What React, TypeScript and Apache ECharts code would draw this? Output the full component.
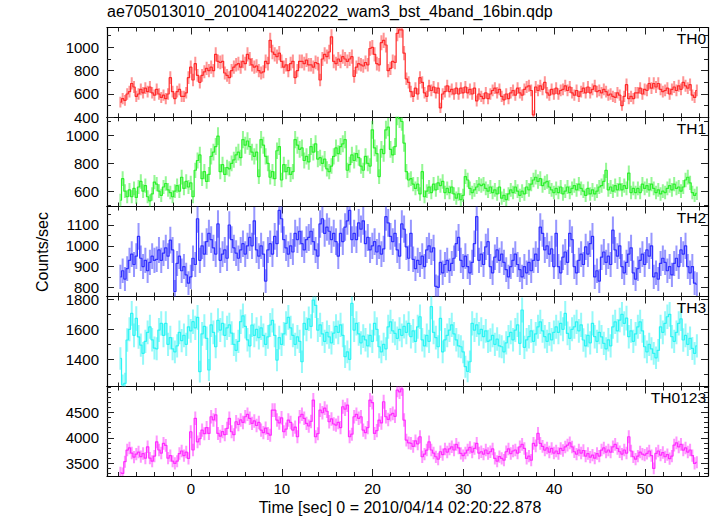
import React, { useEffect, useRef } from 'react';
import * as echarts from 'echarts';

// time bins: 0.25 s each, first bin starts at T_START
const T_START = -7.9;
const BIN = 0.25;

const TH0 = [
  530, 560, 545, 600, 620, 690, 660, 580, 600, 640, 610, 650, 620, 660, 610, 590,
  640, 600, 570, 590, 560, 600, 740, 620, 560, 620, 640, 580, 580, 610, 740, 830,
  720, 860, 760, 700, 760, 790, 820, 800, 830, 800, 940, 880, 870, 880, 780, 760,
  740, 800, 830, 850, 860, 830, 880, 860, 940, 900, 850, 830, 840, 800, 780, 790,
  880, 860, 1060, 960, 940, 920, 950, 880, 830, 850, 800, 860, 880, 740, 800, 880,
  880, 860, 890, 850, 850, 830, 870, 860, 720, 900, 940, 920, 960, 1090, 880, 860,
  900, 880, 920, 900, 880, 900, 920, 750, 830, 860, 850, 840, 870, 850, 990, 1000,
  940, 860, 850, 1040, 1060, 1020, 800, 820, 880, 870, 1120, 1150, 1150, 950, 730, 700,
  620, 580, 650, 600, 740, 700, 610, 580, 670, 630, 660, 610, 650, 480, 600, 620,
  670, 620, 640, 600, 650, 600, 650, 610, 660, 610, 640, 600, 650, 540, 600, 580,
  560, 610, 560, 600, 630, 650, 610, 640, 580, 550, 600, 560, 610, 630, 590, 650,
  610, 590, 640, 660, 670, 630, 420, 660, 630, 670, 640, 700, 610, 590, 640, 600,
  650, 600, 630, 640, 670, 630, 660, 610, 590, 630, 580, 620, 650, 610, 660, 610,
  640, 670, 620, 630, 610, 640, 620, 590, 600, 580, 570, 610, 590, 500, 580, 680,
  560, 580, 560, 610, 610, 650, 600, 640, 630, 690, 650, 690, 660, 690, 640, 620,
  630, 650, 600, 640, 660, 630, 670, 640, 700, 670, 650, 680, 590, 570, 630,
];

const TH1 = [
  535, 690, 600, 560, 610, 560, 620, 555, 630, 670, 600, 640, 560, 530, 580, 665,
  650, 600, 570, 630, 655, 610, 590, 560, 600, 640, 600, 700, 620, 670, 630, 660,
  560, 750, 820, 860, 690, 740, 670, 720, 850, 880, 920, 995, 740, 790, 720, 770,
  760, 800, 825, 860, 880, 840, 970, 930, 960, 920, 880, 850, 880, 705, 970, 930,
  850, 800, 700, 740, 690, 890, 920, 680, 790, 740, 770, 720, 740, 970, 930, 900,
  910, 820, 850, 810, 920, 880, 940, 830, 840, 800, 830, 760, 740, 780, 850, 910,
  870, 920, 940, 970, 750, 790, 860, 820, 870, 840, 780, 750, 850, 800, 780, 1040,
  910, 870, 705, 900, 870, 1040, 1060, 900, 860, 920, 1140, 1120, 1100, 945, 740, 680,
  690, 650, 620, 650, 580, 740, 560, 600, 630, 590, 650, 610, 660, 640, 670, 590,
  620, 590, 630, 580, 550, 580, 540, 570, 705, 680, 620, 590, 610, 630, 650, 640,
  650, 620, 600, 630, 590, 610, 580, 630, 550, 570, 540, 580, 610, 590, 630, 600,
  570, 600, 580, 630, 610, 650, 680, 700, 670, 690, 640, 660, 670, 630, 610, 590,
  620, 590, 630, 580, 600, 630, 590, 620, 640, 610, 650, 620, 600, 570, 620, 580,
  610, 580, 600, 630, 640, 670, 750, 610, 630, 600, 640, 610, 650, 610, 640, 620,
  730, 590, 620, 590, 620, 590, 650, 620, 640, 610, 650, 620, 590, 610, 580, 600,
  590, 620, 640, 610, 650, 620, 630, 600, 630, 680, 700, 660, 590, 570, 585,
];

const TH2 = [
  850, 880, 840, 890, 930, 960, 910, 950, 1045, 940, 900, 930, 880, 920, 950, 930,
  935, 980, 930, 965, 990, 950, 1027, 980, 780, 915, 950, 880, 900, 860, 820, 850,
  940, 910, 1130, 930, 1000, 960, 1020, 1060, 1030, 990, 960, 1105, 930, 960, 980, 940,
  1100, 1030, 990, 965, 940, 980, 1010, 960, 1000, 1040, 1000, 1120, 980, 950, 1000, 960,
  830, 980, 1010, 960, 1045, 1010, 1170, 1130, 1030, 990, 960, 1000, 970, 1060, 1030, 1070,
  1010, 980, 1030, 1040, 1070, 1020, 980, 950, 1105, 1130, 1060, 1090, 1070, 1030, 1060, 1020,
  950, 1060, 1020, 1090, 1120, 1170, 1030, 1060, 1030, 1110, 1080, 1120, 1010, 1040, 980, 1000,
  1020, 970, 1000, 960, 985, 1140, 1110, 1045, 1020, 1060, 980, 950, 1105, 1080, 995, 940,
  1060, 935, 890, 930, 910, 950, 900, 980, 1000, 970, 990, 805, 800, 920, 870, 910,
  930, 880, 915, 940, 1010, 1040, 930, 900, 950, 900, 870, 920, 1010, 1140, 930, 960,
  910, 995, 1020, 900, 870, 945, 980, 930, 960, 920, 885, 850, 900, 930, 960, 910,
  885, 850, 900, 870, 920, 880, 930, 960, 930, 1090, 1060, 980, 1000, 960, 985, 900,
  1060, 900, 870, 945, 970, 920, 1060, 1030, 900, 870, 930, 960, 910, 995, 960, 1010,
  1045, 850, 880, 830, 945, 970, 920, 950, 910, 1075, 980, 950, 1000, 900, 870, 920,
  960, 990, 870, 840, 890, 930, 960, 910, 980, 950, 1000, 850, 870, 840, 915, 940,
  920, 880, 900, 860, 915, 940, 900, 980, 960, 1000, 900, 870, 900, 820, 815,
];

const TH3 = [
  1406, 1229, 1240, 1529, 1600, 1706, 1560, 1673, 1550, 1495, 1440, 1520, 1580, 1617, 1530, 1475,
  1470, 1595, 1640, 1560, 1640, 1500, 1545, 1470, 1450, 1490, 1580, 1525, 1560, 1500, 1617, 1590,
  1651, 1610, 1680, 1318, 1570, 1620, 1540, 1329, 1630, 1580, 1484, 1660, 1595, 1640, 1560, 1610,
  1630, 1575, 1500, 1460, 1520, 1651, 1690, 1620, 1530, 1490, 1629, 1560, 1600, 1545, 1610, 1560,
  1500, 1550, 1629, 1660, 1560, 1395, 1545, 1500, 1570, 1640, 1680, 1610, 1560, 1500, 1550, 1520,
  1384, 1640, 1600, 1670, 1620, 1795, 1760, 1595, 1630, 1570, 1520, 1580, 1550, 1510, 1575, 1620,
  1580, 1630, 1560, 1418, 1450, 1400, 1773, 1595, 1640, 1570, 1510, 1555, 1530, 1490, 1560, 1520,
  1640, 1600, 1484, 1450, 1500, 1470, 1617, 1650, 1590, 1573, 1540, 1600, 1560, 1620, 1580, 1640,
  1551, 1590, 1520, 1617, 1684, 1530, 1490, 1560, 1520, 1751, 1580, 1545, 1484, 1673, 1450, 1530,
  1560, 1595, 1630, 1570, 1530, 1490, 1484, 1450, 1351, 1320, 1384, 1640, 1595, 1630, 1570, 1600,
  1551, 1590, 1520, 1529, 1560, 1500, 1535, 1490, 1484, 1450, 1510, 1551, 1580, 1530, 1595, 1630,
  1507, 1729, 1480, 1530, 1551, 1590, 1520, 1570, 1617, 1650, 1590, 1551, 1520, 1570, 1530, 1580,
  1617, 1580, 1640, 1600, 1706, 1573, 1540, 1600, 1617, 1650, 1590, 1630, 1529, 1490, 1560, 1510,
  1640, 1551, 1520, 1580, 1550, 1507, 1470, 1530, 1490, 1617, 1650, 1590, 1662, 1700, 1640, 1675,
  1551, 1590, 1520, 1570, 1617, 1650, 1590, 1484, 1450, 1500, 1470, 1440, 1410, 1460, 1617, 1580,
  1640, 1684, 1700, 1551, 1520, 1580, 1640, 1670, 1529, 1560, 1500, 1540, 1473, 1440, 1490,
];

const TH0123 = [
  3314, 3300, 3530, 3758, 3800, 3700, 3620, 3680, 3720, 3630, 3690, 3600, 3823, 3600, 3540, 3640,
  3921, 3760, 3700, 3889, 3850, 3600, 3650, 3540, 3497, 3540, 3690, 3740, 3650, 3720, 3595, 4118,
  3760, 4380, 3920, 3980, 4150, 4080, 4200, 4085, 4412, 4350, 4450, 4085, 4030, 4120, 4060, 4183,
  4380, 4118, 4060, 4314, 4260, 4350, 4300, 4412, 4460, 4380, 4281, 4330, 4240, 4300, 4150, 4100,
  4190, 4085, 4050, 4543, 4540, 4347, 4290, 4390, 4118, 4170, 4347, 4300, 4150, 4210, 4020, 4412,
  4460, 4380, 4281, 4230, 4320, 4739, 4020, 4080, 4543, 4490, 4580, 4520, 4314, 4370, 4270, 4249,
  4300, 4200, 4608, 4560, 4640, 4020, 4070, 4412, 4460, 4380, 4412, 4150, 4100, 4200, 4739, 4690,
  4085, 4140, 4347, 4290, 4706, 4412, 4360, 4450, 4478, 4420, 4935, 4900, 4960, 4347, 3954, 3900,
  3889, 3830, 3940, 3880, 4020, 3627, 3680, 3758, 3921, 3760, 3700, 3627, 3580, 3726, 3670, 3780,
  3720, 3780, 3823, 3760, 3870, 3800, 3693, 3650, 3700, 3758, 3810, 3720, 3790, 3889, 3700, 3726,
  3680, 3760, 3690, 3726, 3780, 3595, 3540, 3630, 3595, 3560, 3726, 3780, 3690, 3740, 3760, 3700,
  3823, 3870, 3790, 3595, 3640, 3560, 3889, 3840, 4085, 3890, 3830, 3758, 3800, 3720, 3790, 3700,
  3740, 3690, 3790, 3750, 3820, 3856, 3900, 3820, 3726, 3680, 3760, 3700, 3750, 3640, 3690, 3620,
  3660, 3600, 3690, 3640, 3758, 3800, 3720, 3760, 3720, 3823, 3870, 3790, 3726, 3680, 3760, 3700,
  4020, 3740, 3627, 3580, 3640, 3720, 3680, 3660, 3693, 3740, 3650, 3399, 3693, 3740, 3660, 3710,
  3627, 3670, 3590, 3640, 3856, 3900, 3820, 3870, 3758, 3800, 3720, 3760, 3650, 3497, 3520,
];

const PANEL_NAMES = ['TH0', 'TH1', 'TH2', 'TH3', 'TH0123'];
const PANEL_DATA = [TH0, TH1, TH2, TH3, TH0123];

const X_MAJOR = [0, 10, 20, 30, 40, 50];
const X_MINOR = [-8, -6, -4, -2, 2, 4, 6, 8, 12, 14, 16, 18, 22, 24, 26, 28, 32, 34, 36, 38, 42, 44, 46, 48, 52, 54, 56];

const Y_MAJOR = [
  [400, 600, 800, 1000],
  [600, 800, 1000],
  [800, 900, 1000, 1100],
  [1400, 1600, 1800],
  [3500, 4000, 4500],
];
const Y_MINOR = [
  [500, 700, 900, 1100],
  [500, 700, 900, 1100],
  [850, 950, 1050, 1150],
  [1300, 1500, 1700],
  [3300, 3400, 3600, 3700, 3800, 3900, 4100, 4200, 4300, 4400, 4600, 4700, 4800, 4900, 5000],
];

const TITLE = 'ae705013010_20100414022022_wam3_bst_4band_16bin.qdp';
const X_TITLE = 'Time [sec] 0 = 2010/04/14 02:20:22.878';
const Y_TITLE = 'Counts/sec';

// layout / style
const Y_RANGE = [
  [400, 1170],
  [490, 1130],
  [756, 1189],
  [1219, 1819],
  [3250, 5005],
];
const X_RANGE = [-9.25, 56.95];
const GRID_TOPS = [27.5, 117.3, 206.5, 296.5, 386.5, 476];
const COLORS = ['#ff2a2a', '#2cf02c', '#3030ff', '#2cf4f4', '#ff2cff'];
const FONT = 'Liberation Sans, Arial, Helvetica, sans-serif';

function buildOption() {
  const grid: any[] = [];
  const xAxis: any[] = [];
  const yAxis: any[] = [];
  const series: any[] = [];
  const graphic: any[] = [];
  const left = 107;
  const width = 601;

  for (let i = 0; i < 5; i++) {
    const top = GRID_TOPS[i];
    const height = GRID_TOPS[i + 1] - top;
    for (let k = 0; k < 2; k++) {
      grid.push({ left, width, top, height, containLabel: false });
      const gi = 2 * i + k;
      const major = k === 0;
      const xTicks = major ? X_MAJOR : X_MINOR;
      const yTicks = major ? Y_MAJOR[i] : Y_MINOR[i];
      const len = major ? 7 : 4;
      const showXLabel = major && i === 4;
      ['bottom', 'top'].forEach((pos, j) => {
        xAxis.push({
          type: 'value',
          gridIndex: gi,
          position: pos,
          min: X_RANGE[0],
          max: X_RANGE[1],
          axisLine: { show: major, onZero: false, lineStyle: { color: '#000', width: 1.2 } },
          axisTick: { show: true, inside: true, length: len, customValues: xTicks, lineStyle: { color: '#222', width: 1 } },
          axisLabel: {
            show: showXLabel && j === 0,
            customValues: X_MAJOR,
            formatter: (v: number) => String(v),
            color: '#000',
            fontSize: 15,
            fontFamily: FONT,
            margin: 5,
          },
          splitLine: { show: false },
        });
      });
      ['left', 'right'].forEach((pos, j) => {
        yAxis.push({
          type: 'value',
          gridIndex: gi,
          position: pos,
          min: Y_RANGE[i][0],
          max: Y_RANGE[i][1],
          axisLine: { show: major, onZero: false, lineStyle: { color: '#000', width: 1.2 } },
          axisTick: { show: true, inside: true, length: len, customValues: yTicks, lineStyle: { color: '#222', width: 1 } },
          axisLabel: {
            show: major && j === 0,
            customValues: Y_MAJOR[i],
            formatter: (v: number) => String(v),
            color: '#000',
            fontSize: 15,
            lineHeight: 11,
            fontFamily: FONT,
            margin: 8,
          },
          splitLine: { show: false },
        });
      });
    }

    const vals = PANEL_DATA[i];
    const color = COLORS[i];
    const pts = vals.map((v, n) => [T_START + BIN * (n + 0.5), v, 2 * Math.sqrt(v)]);
    const axisIdx = 4 * i;
    series.push({
      type: 'custom',
      name: PANEL_NAMES[i] + ' err',
      xAxisIndex: axisIdx,
      yAxisIndex: axisIdx,
      clip: true,
      encode: { x: 0, y: 1 },
      data: pts,
      renderItem: (params: any, api: any) => {
        const x = api.value(0);
        const v = api.value(1);
        const e = api.value(2);
        const a = api.coord([x, v - e]);
        const b = api.coord([x, v + e]);
        return {
          type: 'line',
          shape: { x1: a[0], y1: a[1], x2: b[0], y2: b[1] },
          style: { stroke: color, lineWidth: 2, opacity: 0.5 },
        };
      },
      z: 2,
    });
    series.push({
      type: 'line',
      name: PANEL_NAMES[i],
      xAxisIndex: axisIdx,
      yAxisIndex: axisIdx,
      step: 'middle',
      showSymbol: false,
      symbol: 'none',
      data: pts.map((p) => [p[0], p[1]]),
      lineStyle: { color, width: 1.2 },
      itemStyle: { color },
      clip: true,
      z: 3,
    });

    graphic.push({
      type: 'text',
      right: 11,
      top: top + 3,
      style: { text: PANEL_NAMES[i], fill: '#000', font: `15.5px ${FONT}` },
      z: 10,
    });
  }

  graphic.push({
    type: 'text',
    left: 107,
    top: 3,
    style: { text: TITLE, fill: '#000', font: `16px ${FONT}` },
  });
  graphic.push({
    type: 'text',
    x: 400,
    y: 507,
    style: { text: X_TITLE, fill: '#000', font: `16px ${FONT}`, textAlign: 'center', textVerticalAlign: 'middle' },
  });
  graphic.push({
    type: 'text',
    x: 42,
    y: 252,
    rotation: Math.PI / 2,
    style: { text: Y_TITLE, fill: '#000', font: `16px ${FONT}`, textAlign: 'center', textVerticalAlign: 'middle' },
  });

  return {
    animation: false,
    backgroundColor: '#ffffff',
    grid,
    xAxis,
    yAxis,
    series,
    graphic,
  };
}

export default function App() {
  const ref = useRef<HTMLDivElement>(null);
  useEffect(() => {
    if (!ref.current) return;
    const chart = echarts.init(ref.current, undefined, { renderer: 'svg' });
    chart.setOption(buildOption() as any);
    return () => chart.dispose();
  }, []);
  return (
    <div
      ref={ref}
      style={{ position: 'fixed', left: 0, top: 0, width: 717, height: 516, background: '#fff' }}
    />
  );
}
